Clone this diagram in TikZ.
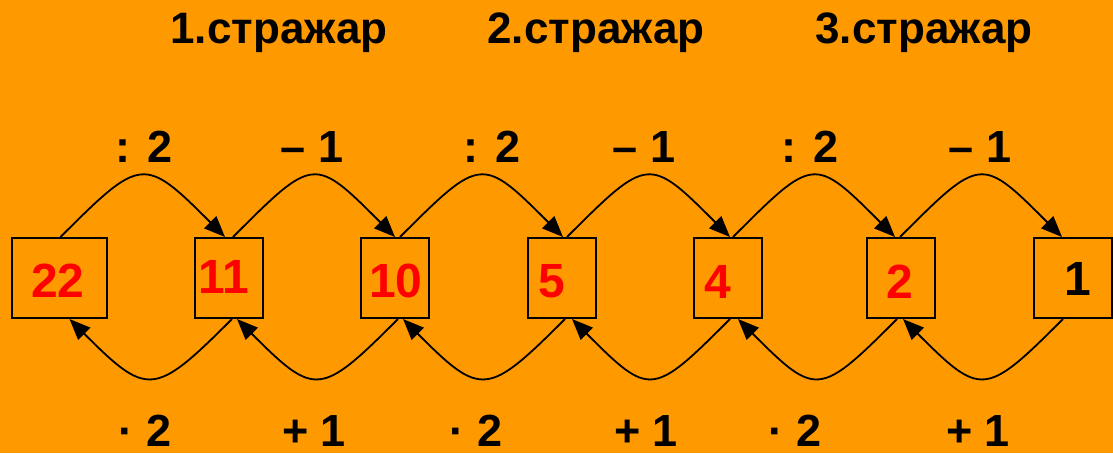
\documentclass[tikz,border=0pt]{standalone}
\usepackage{fontspec}
\setmainfont{Liberation Sans}
\usetikzlibrary{arrows.meta}
\definecolor{bg}{RGB}{255,153,0}
\definecolor{num}{RGB}{255,0,0}
\begin{document}
\begin{tikzpicture}[x=1pt,y=-1pt,
  box/.style={draw,line width=2pt,inner sep=0pt,minimum height=80pt},
  numtxt/.style={anchor=base,text=num,font=\fontsize{48}{52}\selectfont\bfseries,inner sep=0pt},
  lbl/.style={anchor=base,font=\fontsize{45}{50}\selectfont\bfseries,inner sep=0pt,text depth=0pt},
  hdr/.style={anchor=base,font=\fontsize{44}{50}\selectfont\bfseries,inner sep=0pt},
  tipshape/.tip={Triangle[length=21pt,width=17pt]},
  arr/.style={line width=1.8pt,-tipshape}]
\fill[bg] (0,0) rectangle (1113,453);
\useasboundingbox (0,0) rectangle (1113,453);
% headers
\node[hdr] (h1) at (279,43) {1.стражар};
\node[hdr] (h2) at (596,43) {2.стражар};
\node[hdr] (h3) at (924,43) {3.стражар};
% boxes
\node[box,minimum width=95pt] (b22) at (59.5,278) {};
\node[box,minimum width=68pt] (b11) at (229,278) {};
\node[box,minimum width=68pt] (b10) at (395,278) {};
\node[box,minimum width=68pt] (b5) at (562,278) {};
\node[box,minimum width=68pt] (b4) at (728,278) {};
\node[box,minimum width=68pt] (b2) at (901,278) {};
\node[box,minimum width=78pt] (b1) at (1073,278) {};
% numbers
\node[numtxt] (n22) at (58,297) {22};
\node[numtxt] (n11) at (224,293) {11};
\node[numtxt] (n10) at (396,297) {10};
\node[numtxt] (n5) at (552,297) {5};
\node[numtxt] (n4) at (718,298) {4};
\node[numtxt] (n2) at (900,298) {2};
\node[numtxt,text=black] (n1) at (1078,295) {1};
% top arrows
\draw[arr] ([xshift=1pt]b22.north) .. controls +(81,-81) and +(-81,-81) .. ([xshift=-4pt]b11.north);
\draw[arr] ([xshift=4pt]b11.north) .. controls +(81,-81) and +(-81,-81) .. ([xshift=0pt]b10.north);
\draw[arr] ([xshift=5pt]b10.north) .. controls +(81,-81) and +(-81,-81) .. ([xshift=1pt]b5.north);
\draw[arr] ([xshift=5pt]b5.north) .. controls +(81,-81) and +(-81,-81) .. ([xshift=2pt]b4.north);
\draw[arr] ([xshift=5pt]b4.north) .. controls +(81,-81) and +(-81,-81) .. ([xshift=-6pt]b2.north);
\draw[arr] ([xshift=-1pt]b2.north) .. controls +(81,-81) and +(-81,-81) .. ([xshift=-11pt]b1.north);
% bottom arrows
\draw[arr] ([xshift=3pt]b11.south) .. controls +(-78,78) and +(78,78) .. ([xshift=10pt]b22.south);
\draw[arr] ([xshift=3pt]b10.south) .. controls +(-78,78) and +(78,78) .. ([xshift=8pt]b11.south);
\draw[arr] ([xshift=3pt]b5.south) .. controls +(-78,78) and +(78,78) .. ([xshift=8pt]b10.south);
\draw[arr] ([xshift=2pt]b4.south) .. controls +(-78,78) and +(78,78) .. ([xshift=10pt]b5.south);
\draw[arr] ([xshift=-4pt]b2.south) .. controls +(-78,78) and +(78,78) .. ([xshift=10pt]b4.south);
\draw[arr] ([xshift=-10pt]b1.south) .. controls +(-78,78) and +(78,78) .. ([xshift=2pt]b2.south);
% top labels
\node[lbl] (t1) at (144,162) {: 2};
\node[lbl] (t2) at (312,162) {– 1};
\node[lbl] (t3) at (492,162) {: 2};
\node[lbl] (t4) at (644,162) {– 1};
\node[lbl] (t5) at (810,162) {: 2};
\node[lbl] (t6) at (980,162) {– 1};
% bottom labels
\node[lbl] (u1) at (145,446) {· 2};
\node[lbl] (u2) at (314,446) {+ 1};
\node[lbl] (u3) at (476,446) {· 2};
\node[lbl] (u4) at (646,446) {+ 1};
\node[lbl] (u5) at (795,446) {· 2};
\node[lbl] (u6) at (978,446) {+ 1};
\end{tikzpicture}
\end{document}
